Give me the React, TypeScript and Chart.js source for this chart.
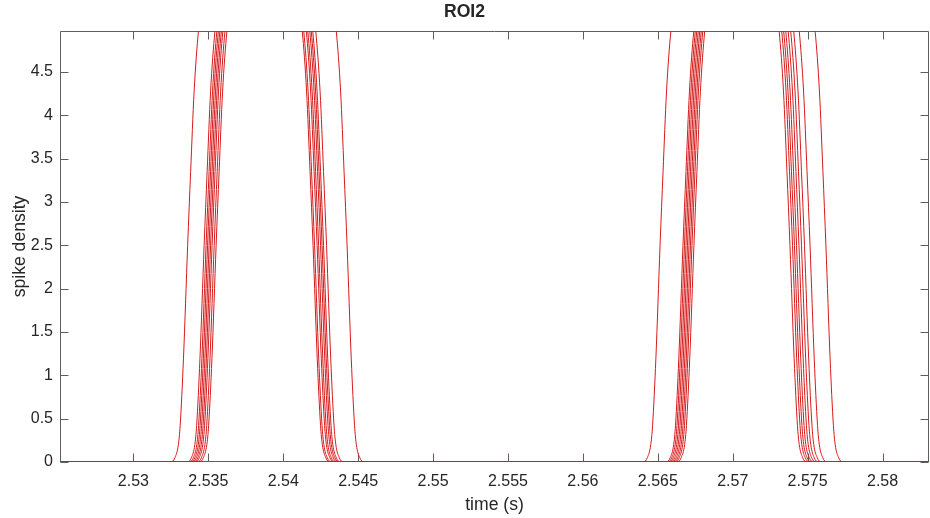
import React, { useEffect, useRef } from "react";
import { Chart, registerables } from "chart.js";

Chart.register(...registerables);

const chartTitle = "ROI2";
const xLabel = "time (s)";
const yLabel = "spike density";

const xMin = 2.5251;
const xMax = 2.5831;
const yMin = 0;
const yMax = 4.973;

const xTicks = [2.53, 2.535, 2.54, 2.545, 2.55, 2.555, 2.56, 2.565, 2.57, 2.575, 2.58];
const yTicks = [0, 0.5, 1, 1.5, 2, 2.5, 3, 3.5, 4, 4.5];

// shape of a rising edge (time offset from the 2.5 crossing, level)
const riseOffsets = [-0.0011, -0.00085, -0.00062, -0.0005, -0.00028, 0, 0.0002, 0.00043, 0.00072, 0.0011, 0.0017];
const riseLevels = [0, 0.05, 0.2, 0.42, 1.19, 2.5, 3.35, 4.27, 4.97, 5.45, 5.75];
const plateauLevel = 6;

// times where each trace crosses 2.5 on each edge
const burst1Rise = [2.53362, 2.53472, 2.53485, 2.53495, 2.53505, 2.53515, 2.53525, 2.53539, 2.53552];
const burst1Fall = [2.54426, 2.54199, 2.54209, 2.54226, 2.54236, 2.54249, 2.54259, 2.54269, 2.54289];
const burst2Rise = [2.56515, 2.56668, 2.56678, 2.56688, 2.56698, 2.56708, 2.56718, 2.56728, 2.56741];
const burst2Fall = [2.57622, 2.57382, 2.57399, 2.57412, 2.57426, 2.57442, 2.57459, 2.57479, 2.57516];

const traceStart = 2.52;
const traceEnd = 2.59;

const lineColor = "rgb(214, 26, 26)";
const axisColor = "#5e5e5e";
const textColor = "#262626";
const fontFamily = "'Liberation Sans', Arial, Helvetica, sans-serif";

type Pt = { x: number; y: number };

function buildTrace(i: number): Pt[] {
  const pts: Pt[] = [{ x: traceStart, y: 0 }];
  const bursts = [
    [burst1Rise[i], burst1Fall[i]],
    [burst2Rise[i], burst2Fall[i]],
  ];
  for (const [r, f] of bursts) {
    for (let k = 0; k < riseOffsets.length; k++) pts.push({ x: r + riseOffsets[k], y: riseLevels[k] });
    pts.push({ x: (r + f) / 2, y: plateauLevel });
    for (let k = riseOffsets.length - 1; k >= 0; k--) pts.push({ x: f - riseOffsets[k], y: riseLevels[k] });
  }
  pts.push({ x: traceEnd, y: 0 });
  return pts;
}

const fmt = (v: number) => String(Number(Number(v).toFixed(4)));

const boxPlugin = {
  id: "matlabBox",
  beforeDatasetsDraw(chart: any) {
    const { ctx, chartArea: a, scales } = chart;
    const L = Math.round(a.left) + 0.5;
    const R = Math.round(a.right) - 0.5;
    const T = Math.round(a.top) + 0.5;
    const B = Math.round(a.bottom) - 0.5;
    const len = 8;
    ctx.save();
    ctx.strokeStyle = axisColor;
    ctx.lineWidth = 1;
    ctx.beginPath();
    ctx.rect(L, T, R - L, B - T);
    for (const t of scales.x.ticks) {
      const px = Math.round(scales.x.getPixelForValue(t.value)) + 0.5;
      ctx.moveTo(px, B);
      ctx.lineTo(px, B - len);
      ctx.moveTo(px, T);
      ctx.lineTo(px, T + len);
    }
    for (const t of scales.y.ticks) {
      const py = Math.round(scales.y.getPixelForValue(t.value)) + 0.5;
      ctx.moveTo(L, py);
      ctx.lineTo(L + len, py);
      ctx.moveTo(R, py);
      ctx.lineTo(R - len, py);
    }
    ctx.stroke();
    ctx.restore();
  },
};

export default function App() {
  const ref = useRef<HTMLCanvasElement>(null);

  useEffect(() => {
    document.body.style.margin = "0";
    const canvas = ref.current;
    if (!canvas) return;
    const datasets = burst1Rise.map((_, i) => ({
      data: buildTrace(i),
      borderColor: lineColor,
      borderWidth: 1,
      pointRadius: 0,
      fill: false,
      cubicInterpolationMode: "monotone" as const,
    }));
    const chart = new Chart(canvas, {
      type: "line",
      data: { datasets },
      plugins: [boxPlugin],
      options: {
        animation: false,
        responsive: false,
        maintainAspectRatio: false,
        layout: { padding: { left: 0, right: 1, top: 0, bottom: 0 } },
        plugins: {
          legend: { display: false },
          tooltip: { enabled: false },
          title: {
            display: true,
            text: chartTitle,
            color: textColor,
            font: { family: fontFamily, size: 17.6, weight: "bold" },
            padding: { top: 2, bottom: 7.88 },
          },
        },
        scales: {
          x: {
            type: "linear",
            min: xMin,
            max: xMax,
            afterBuildTicks: (scale: any) => {
              scale.ticks = xTicks.map((v) => ({ value: v }));
            },
            afterFit: (scale: any) => {
              scale.height = 56;
            },
            grid: { display: false, drawTicks: false },
            border: { display: false },
            ticks: {
              autoSkip: false,
              maxRotation: 0,
              padding: 10,
              color: textColor,
              font: { family: fontFamily, size: 16 },
              callback: (v: any) => fmt(v),
            },
            title: {
              display: true,
              text: xLabel,
              color: textColor,
              font: { family: fontFamily, size: 17.6 },
              padding: { top: 0, bottom: 2.4 },
            },
          },
          y: {
            type: "linear",
            min: yMin,
            max: yMax,
            afterBuildTicks: (scale: any) => {
              scale.ticks = yTicks.map((v) => ({ value: v }));
            },
            afterFit: (scale: any) => {
              scale.width = 60;
            },
            grid: { display: false, drawTicks: false },
            border: { display: false },
            ticks: {
              autoSkip: false,
              padding: 7,
              color: textColor,
              font: { family: fontFamily, size: 16 },
              callback: (v: any) => fmt(v),
            },
            title: {
              display: true,
              text: yLabel,
              color: textColor,
              font: { family: fontFamily, size: 17.6 },
              padding: { top: 9.4, bottom: 0 },
            },
          },
        },
      },
    });
    return () => chart.destroy();
  }, []);

  return (
    <div style={{ width: 930, height: 518, background: "#fff" }}>
      <canvas ref={ref} width={930} height={518} style={{ display: "block" }} />
    </div>
  );
}
